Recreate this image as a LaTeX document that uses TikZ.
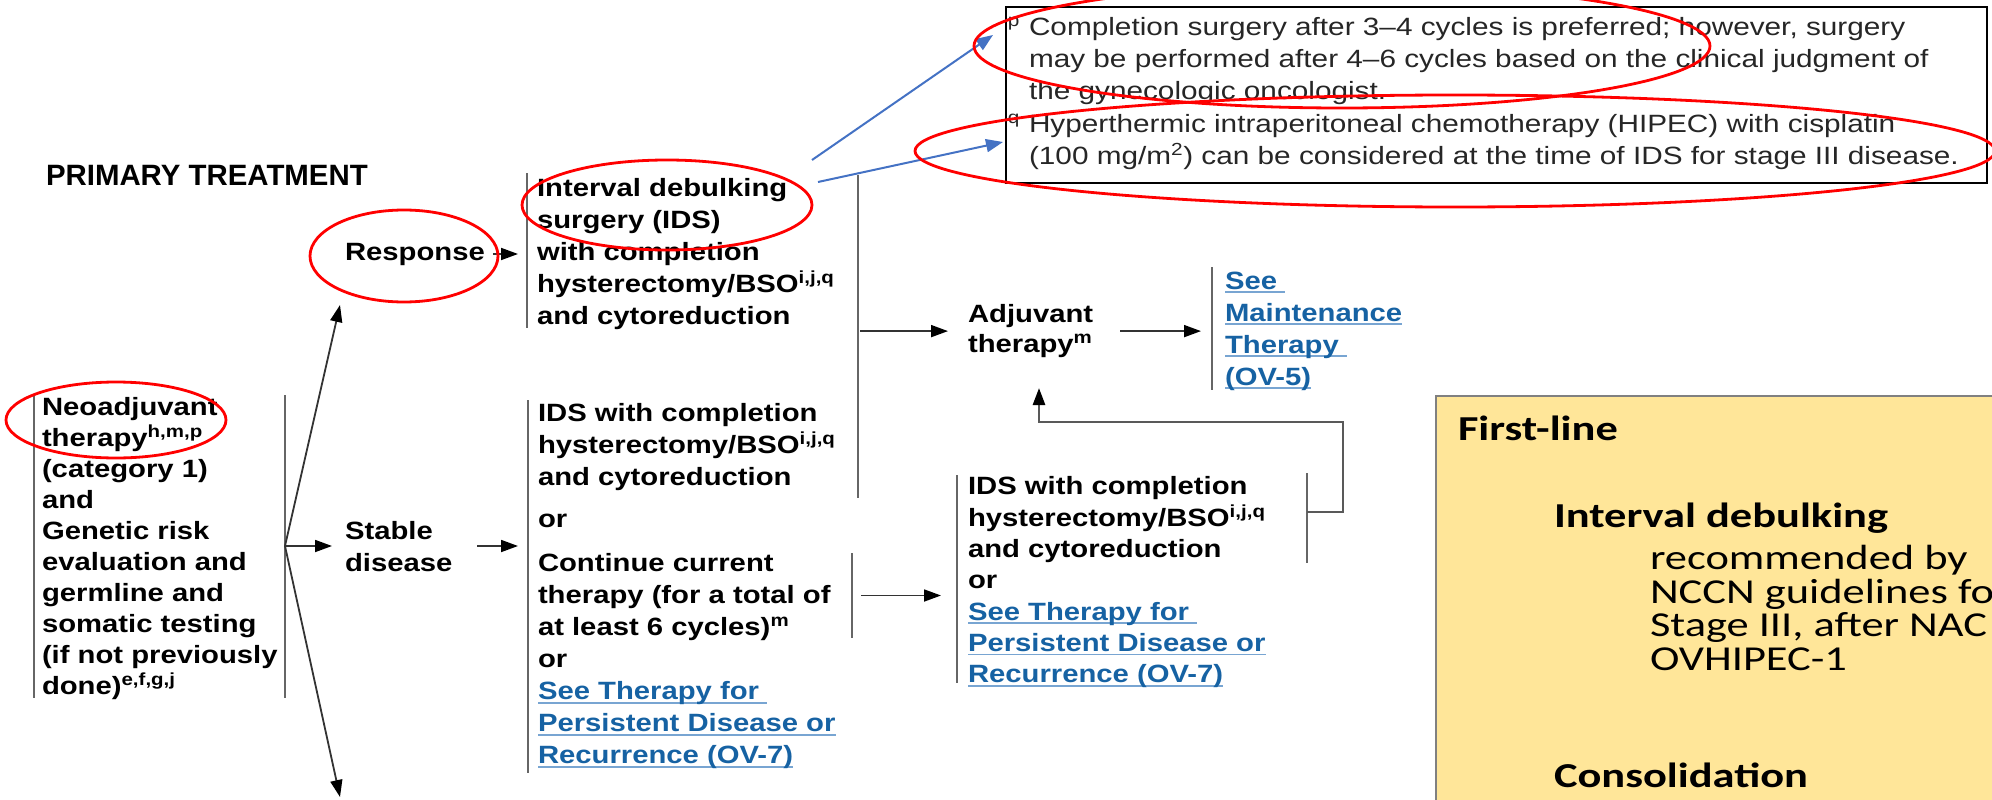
\documentclass[tikz,border=0pt]{standalone}
\usepackage{fontspec}
\setmainfont{Liberation Sans}
\newfontfamily\chartfont[FakeStretch=1.17]{Liberation Sans}
\newfontfamily\notefont[FakeStretch=1.19]{Liberation Sans}
\newfontfamily\slidefont[FakeStretch=1.27]{Carlito}
\usetikzlibrary{arrows.meta,calc}
\definecolor{linkblue}{RGB}{22,98,163}
\definecolor{linkline}{RGB}{120,165,210}
\definecolor{noteblue}{RGB}{68,114,196}
\definecolor{slidefill}{RGB}{255,230,153}
\definecolor{slideedge}{RGB}{128,128,128}
\definecolor{notegray}{RGB}{38,38,38}
\newsavebox\lnkbox
\newcommand\lnk[1]{%
  \sbox\lnkbox{\color{linkblue}#1}%
  \rlap{\color{linkline}\rule[-4pt]{\wd\lnkbox}{1.8pt}}%
  \usebox\lnkbox}
\begin{document}
\begin{tikzpicture}[x=1pt,y=-1pt,
    every node/.style={inner sep=0pt,outer sep=0pt,align=left},
    chart/.style={anchor=north west,font=\chartfont\bfseries\fontsize{25}{#1}\selectfont},
    chart/.default=32,
    single/.style={anchor=base west,font=\chartfont\bfseries\fontsize{25}{29}\selectfont},
    note/.style={anchor=north west,text=notegray,font=\notefont\fontsize{25}{32.4}\selectfont},
    slide/.style={font=\slidefont\fontsize{35}{33.5}\selectfont},
    slidebold/.style={anchor=base west,font=\slidefont\bfseries\fontsize{35}{33.5}\selectfont},
    bar/.style={draw=black!60,line width=2.2pt},
    arr/.style={draw=black!80,line width=1.8pt,-{Triangle[length=17pt,width=12pt,color=black]}},
    conn/.style={draw=black!65,line width=2.6pt},
    ring/.style={draw=red,line width=2.8pt},
    pointer/.style={draw=noteblue,line width=2pt,-{Triangle[length=17pt,width=13pt]}}]
\useasboundingbox (0,0) rectangle (1992,800);
\clip (0,0) rectangle (1992,800);

% slide panel on the right
\draw[draw=slideedge,fill=slidefill,line width=1.5pt] (1436,396) rectangle (2020,830);
\node[slidebold] (first) at (1458,440) {First-line};
\node[slidebold] (ivd) at (1554,527) {Interval debulking};
\node[slide,anchor=north west] (rec) at (1650,545.5) {recommended by\\NCCN guidelines fo\\Stage III, after NAC\\OVHIPEC-1};
\node[slidebold] (cons) at (1554,787) {Consolidation};

% flow chart
\node[anchor=base west,font=\bfseries\fontsize{29.4}{34}\selectfont] (title) at (46,185) {PRIMARY TREATMENT};
\node[chart=31] (neo) at (42,397.7) {Neoadjuvant\\therapy\textsuperscript{h,m,p}\\(category 1)\\and\\Genetic risk\\evaluation and\\germline and\\somatic testing\\(if not previously\\done)\textsuperscript{e,f,g,j}};
\node[single] (resp) at (345,260) {Response};
\node[chart] (stab) at (345,521.7) {Stable\\disease};
\node[chart] (ids1) at (537,178.7) {Interval debulking\\surgery (IDS)\\with completion\\hysterectomy/BSO\textsuperscript{i,j,q}\\and cytoreduction};
\node[chart] (ids2) at (538,403.7) {IDS with completion\\hysterectomy/BSO\textsuperscript{i,j,q}\\and cytoreduction\\[10pt]or\\[12pt]Continue current\\therapy (for a total of\\at least 6 cycles)\textsuperscript{m}\\or\\\lnk{See Therapy for\ }\\\lnk{Persistent Disease or}\\\lnk{Recurrence (OV-7)}};
\node[chart=31.3] (ids3) at (968,476.7) {IDS with completion\\hysterectomy/BSO\textsuperscript{i,j,q}\\and cytoreduction\\or\\\lnk{See Therapy for\ }\\\lnk{Persistent Disease or}\\\lnk{Recurrence (OV-7)}};
\node[chart=29.5] (adj) at (968,304.7) {Adjuvant\\therapy\textsuperscript{m}};
\node[chart=32] (maint) at (1225,271.7) {\lnk{See\ }\\\lnk{Maintenance}\\\lnk{Therapy\ }\\\lnk{(OV-5)}};

% footnotes
\node[draw=black,line width=2pt,minimum width=981pt,minimum height=176pt,anchor=north west] (fnbox) at (1006,7) {};
\node[note] (fnp) at (1029,16.7) {\llap{\textsuperscript{p}\hspace{9pt}}Completion surgery after 3–4 cycles is preferred; however, surgery\\may be performed after 4–6 cycles based on the clinical judgment of\\the gynecologic oncologist.};
\node[note] (fnq) at (1029,113.8) {\llap{\textsuperscript{q}\hspace{9pt}}Hyperthermic intraperitoneal chemotherapy (HIPEC) with cisplatin\\(100 mg/m\textsuperscript{2}) can be considered at the time of IDS for stage III disease.};

% brackets
\coordinate (fan) at (285,546);
\coordinate (b1t) at (527,173); \coordinate (b1b) at (527,328);
\coordinate (g1t) at (858,175); \coordinate (g1b) at (858,498);
\coordinate (b2t) at (528,400); \coordinate (b2b) at (528,773);
\coordinate (b4t) at (852,553); \coordinate (b4b) at (852,638);
\coordinate (b3t) at (957,475); \coordinate (b3b) at (957,683);
\coordinate (b7t) at (1307,473); \coordinate (b7b) at (1307,563);
\coordinate (b5t) at (1212,267); \coordinate (b5b) at (1212,390);
\coordinate (b4m) at ($(b4t)!0.5!(b4b)$);
\coordinate (b7m) at (1307,512);
\draw[bar] (34,395) -- (34,698);
\draw[bar] (285,395) -- (fan) -- (285,698);
\draw[bar] (b1t) -- (b1b);
\draw[bar] (g1t) -- (g1b);
\draw[bar] (b2t) -- (b2b);
\draw[bar] (b4t) -- (b4b);
\draw[bar] (b3t) -- (b3b);
\draw[bar] (b7t) -- (b7b);
\draw[bar] (b5t) -- (b5b);

% arrows
\coordinate (upend) at (340,305);
\coordinate (downend) at (340,797);
\coordinate (fbend) at (1039,388);
\draw[arr] (fan) -- (upend);
\draw[arr] (fan) -- (downend);
\draw[arr,shorten >=13pt] (fan) -- (fan -| stab.west);
\draw[arr,shorten <=8pt,shorten >=9pt] (resp.east) -- (resp.east -| b1t);
\draw[arr,shorten <=25pt,shorten >=10pt] (stab.east |- fan) -- (b2t |- fan);
\draw[arr,shorten <=2pt,shorten >=20pt] (g1t |- adj.west) -- (adj.west);
\draw[arr,shorten <=27pt,shorten >=11pt] (adj.east) -- (adj.east -| b5t);
\draw[arr,shorten <=9pt,shorten >=16pt] (b4m) -- (b4m -| b3t);
\draw[conn,-{Triangle[length=17pt,width=12pt,color=black]}] (b7m) -- ++(36,0) -- ++(0,-90) -| (fbend);

% callouts
\coordinate (p1a) at (812,160); \coordinate (p1b) at (993,35);
\coordinate (p2a) at (818,182); \coordinate (p2b) at (1003,142);
\draw[pointer] (p1a) -- (p1b);
\draw[pointer] (p2a) -- (p2b);
\draw[ring] (116,420) ellipse [x radius=110,y radius=38];
\draw[ring] (404,256) ellipse [x radius=94,y radius=46];
\draw[ring] (667,205) ellipse [x radius=145,y radius=45];
\draw[ring] (1342,46) ellipse [x radius=368,y radius=62];
\draw[ring] (1455,151) ellipse [x radius=540,y radius=56];
\end{tikzpicture}
\end{document}
